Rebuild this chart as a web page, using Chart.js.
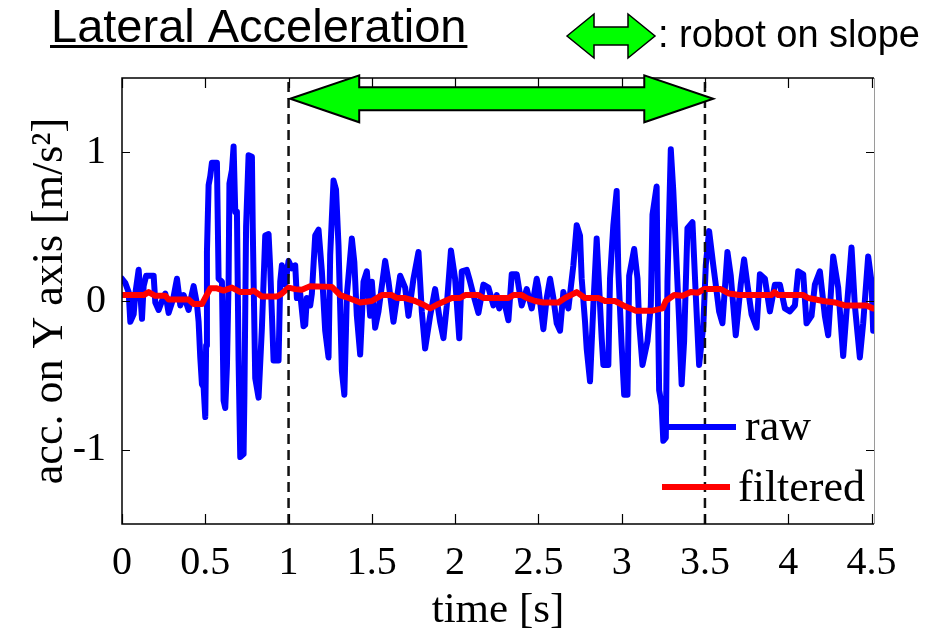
<!DOCTYPE html>
<html>
<head>
<meta charset="utf-8">
<script src="https://cdn.jsdelivr.net/npm/chart.js@4.4.1/dist/chart.umd.min.js"></script>
<style>
  html, body { margin: 0; padding: 0; background: #fff; }
  #wrap { width: 937px; height: 638px; }
</style>
</head>
<body>
<div id="wrap"><canvas id="c" width="937" height="638"></canvas></div>
<script>
// Lateral acceleration on the Y axis: raw sensor signal [m/s^2] over time [s]
const rawTime = [
  0.00,0.02,0.04,0.05,0.07,0.08,0.10,0.11,0.12,0.13,
  0.145,0.19,0.20,0.22,0.24,0.26,0.28,0.30,0.31,0.33,
  0.35,0.37,0.40,0.42,0.43,0.45,0.46,0.47,0.48,0.49,
  0.50,0.505,0.51,0.52,0.53,0.54,0.57,0.58,0.60,0.61,
  0.62,0.63,0.64,0.645,0.66,0.67,0.68,0.69,0.70,0.71,
  0.73,0.735,0.745,0.76,0.78,0.785,0.80,0.82,0.84,0.86,
  0.88,0.89,0.91,0.94,0.95,0.96,0.98,1.00,1.02,1.04,
  1.05,1.07,1.09,1.10,1.11,1.13,1.14,1.16,1.18,1.20,
  1.22,1.24,1.25,1.27,1.285,1.30,1.32,1.335,1.35,1.38,
  1.395,1.41,1.43,1.45,1.47,1.49,1.50,1.52,1.54,1.58,
  1.60,1.63,1.67,1.70,1.72,1.75,1.78,1.80,1.82,1.85,
  1.88,1.91,1.93,1.95,1.975,2.00,2.025,2.04,2.07,2.09,
  2.11,2.14,2.17,2.20,2.23,2.25,2.265,2.29,2.32,2.34,
  2.37,2.40,2.43,2.46,2.49,2.50,2.53,2.55,2.57,2.59,
  2.61,2.63,2.65,2.68,2.71,2.73,2.75,2.76,2.78,2.79,
  2.81,2.83,2.85,2.86,2.88,2.89,2.92,2.93,2.95,2.97,
  2.98,3.00,3.015,3.035,3.045,3.075,3.095,3.105,3.125,3.155,
  3.175,3.185,3.21,3.215,3.225,3.24,3.25,3.265,3.275,3.295,
  3.31,3.325,3.345,3.36,3.375,3.395,3.425,3.445,3.465,3.49,
  3.505,3.525,3.55,3.565,3.585,3.605,3.635,3.655,3.685,3.715,
  3.735,3.755,3.78,3.81,3.83,3.86,3.89,3.92,3.95,3.98,
  4.01,4.04,4.06,4.09,4.11,4.14,4.16,4.19,4.22,4.24,
  4.27,4.30,4.33,4.35,4.38,4.40,4.43,4.45,4.48,4.50,4.51
];
const rawAcc = [
  0.15,0.12,0.06,-0.14,-0.09,0.05,0.21,0.05,-0.12,0.10,
  0.17,0.17,-0.01,-0.06,0.00,0.05,-0.08,-0.01,0.03,0.15,
  -0.03,0.04,-0.06,0.05,0.10,-0.02,-0.14,-0.38,-0.56,-0.58,
  -0.78,-0.30,0.33,0.78,0.84,0.93,0.93,0.15,0.13,-0.67,
  -0.72,-0.44,0.13,0.79,0.88,1.04,0.60,0.60,-0.40,-1.05,
  -1.03,-0.63,0.50,0.98,0.97,0.49,-0.52,-0.65,-0.18,0.44,
  0.45,0.22,-0.40,-0.40,0.13,0.24,0.11,0.27,0.22,0.24,
  0.02,0.05,-0.17,-0.16,0.02,-0.03,0.05,0.44,0.48,0.20,
  -0.20,-0.38,0.31,0.81,0.75,0.37,-0.47,-0.63,0.04,0.42,
  0.26,-0.10,-0.36,0.13,0.20,-0.10,0.13,-0.18,-0.07,0.27,
  0.13,-0.14,0.17,0.09,-0.10,0.15,0.33,-0.07,-0.32,-0.10,
  0.08,-0.14,-0.25,-0.03,0.34,0.15,-0.25,0.20,0.21,0.13,
  0.04,-0.08,0.11,0.09,-0.03,0.04,-0.05,0.02,-0.13,0.18,
  0.18,-0.03,0.08,-0.05,0.15,0.09,-0.19,0.02,0.15,0.02,
  -0.15,-0.20,0.06,-0.05,0.24,0.51,0.44,0.15,-0.14,-0.32,
  -0.54,-0.03,0.42,0.20,-0.25,-0.43,-0.43,0.15,0.51,0.74,
  0.20,-0.30,-0.63,-0.63,0.17,0.35,0.15,-0.15,-0.43,-0.27,
  -0.03,0.58,0.77,0.20,-0.60,-0.70,-0.94,-0.92,0.13,1.02,
  0.74,0.37,-0.13,-0.56,-0.27,0.49,0.53,0.04,-0.43,-0.17,
  0.24,0.47,0.24,0.11,-0.07,-0.15,0.33,0.17,-0.23,0.11,
  0.28,0.11,-0.09,-0.18,0.18,0.15,-0.07,0.11,0.11,-0.05,
  -0.07,-0.03,0.20,0.18,-0.15,-0.10,0.11,0.20,-0.10,-0.23,
  0.30,0.09,-0.37,-0.07,0.36,-0.03,-0.38,-0.15,0.30,0.13,-0.20
];

// Low-pass filtered version of the same signal
const filtTime = [
  0.00,0.13,0.16,0.20,0.26,0.28,0.40,0.43,0.48,0.53,
  0.57,0.61,0.66,0.71,0.77,0.79,0.84,0.93,0.96,1.00,
  1.04,1.08,1.13,1.26,1.31,1.36,1.43,1.50,1.56,1.62,
  1.65,1.70,1.76,1.80,1.85,1.90,1.94,1.98,2.03,2.06,
  2.14,2.17,2.32,2.35,2.40,2.43,2.48,2.53,2.62,2.66,
  2.73,2.78,2.86,2.90,2.96,3.01,3.085,3.185,3.245,3.265,
  3.315,3.365,3.415,3.455,3.495,3.595,3.645,3.705,3.90,3.917,
  3.94,4.09,4.12,4.21,4.28,4.34,4.47,4.51
];
const filtAcc = [
  0.04,0.04,0.06,0.035,0.035,0.01,0.01,-0.02,-0.02,0.085,
  0.085,0.07,0.09,0.06,0.06,0.07,0.03,0.03,0.05,0.09,
  0.08,0.075,0.10,0.095,0.04,0.02,-0.01,0.00,0.04,0.04,
  0.02,0.02,0.00,-0.02,-0.05,-0.02,0.00,0.02,0.02,0.04,
  0.04,0.02,0.02,0.04,0.04,0.02,0.00,-0.01,-0.01,0.02,
  0.06,0.02,0.02,0.00,0.00,-0.03,-0.065,-0.065,-0.05,0.00,
  0.04,0.035,0.06,0.055,0.08,0.08,0.05,0.04,0.04,0.06,
  0.04,0.04,0.02,0.00,-0.01,-0.03,-0.03,-0.05
];

const xTicks = [0, 0.5, 1, 1.5, 2, 2.5, 3, 3.5, 4, 4.5];
const yTicks = [-1, 0, 1];
const xRange = [0, 4.515];
const yRange = [-1.5, 1.5];

// Interval during which the robot is on the slope
const slopeStart = 1.0;
const slopeEnd = 3.5;
const arrowFrom = 1.01;
const arrowTo = 3.55;
const arrowLevel = 1.36;

const SERIF = '"Liberation Serif", "Times New Roman", serif';
const SANS = '"Liberation Sans", Arial, sans-serif';

const toXY = (ts, vs) => ts.map((t, i) => ({ x: t, y: vs[i] }));

function drawDoubleArrow(ctx, x1, x2, y, headLen, headHalf, shaftHalf, lw) {
  ctx.save();
  ctx.beginPath();
  ctx.moveTo(x1, y);
  ctx.lineTo(x1 + headLen, y - headHalf);
  ctx.lineTo(x1 + headLen, y - shaftHalf);
  ctx.lineTo(x2 - headLen, y - shaftHalf);
  ctx.lineTo(x2 - headLen, y - headHalf);
  ctx.lineTo(x2, y);
  ctx.lineTo(x2 - headLen, y + headHalf);
  ctx.lineTo(x2 - headLen, y + shaftHalf);
  ctx.lineTo(x1 + headLen, y + shaftHalf);
  ctx.lineTo(x1 + headLen, y + headHalf);
  ctx.closePath();
  ctx.fillStyle = '#00ff00';
  ctx.fill();
  ctx.lineJoin = 'miter';
  ctx.lineWidth = lw;
  ctx.strokeStyle = '#000';
  ctx.stroke();
  ctx.restore();
}

// Axes box with inward tick marks on all four sides
const framePlugin = {
  id: 'frame',
  afterDatasetsDraw(chart) {
    const { ctx, chartArea: { left, right, top, bottom } } = chart;
    const xs = chart.scales.x, ys = chart.scales.y;
    ctx.save();
    ctx.strokeStyle = '#000';
    ctx.lineWidth = 1.5;
    ctx.beginPath();
    ctx.moveTo(right, top); ctx.lineTo(left, top);
    ctx.lineTo(left, bottom); ctx.lineTo(right, bottom);
    ctx.stroke();
    ctx.lineWidth = 1.2;
    ctx.beginPath();
    xTicks.forEach(v => {
      const px = Math.round(xs.getPixelForValue(v)) + 0.5;
      ctx.moveTo(px, bottom); ctx.lineTo(px, bottom - 10);
      ctx.moveTo(px, top); ctx.lineTo(px, top + 10);
    });
    yTicks.forEach(v => {
      const py = Math.round(ys.getPixelForValue(v)) + 0.5;
      ctx.moveTo(left, py); ctx.lineTo(left + 8, py);
      ctx.moveTo(right, py); ctx.lineTo(right - 8, py);
    });
    ctx.stroke();
    ctx.strokeStyle = '#9a9a9a';
    ctx.lineWidth = 1;
    ctx.beginPath();
    ctx.moveTo(right + 0.5, top); ctx.lineTo(right + 0.5, bottom);
    ctx.stroke();
    ctx.restore();
  }
};

// Slope arrow, series legend, and the heading row
const annotPlugin = {
  id: 'annot',
  afterDraw(chart) {
    const { ctx, chartArea: { right, bottom } } = chart;
    const xs = chart.scales.x, ys = chart.scales.y;

    drawDoubleArrow(ctx, xs.getPixelForValue(arrowFrom), xs.getPixelForValue(arrowTo),
      ys.getPixelForValue(arrowLevel), 69, 23.5, 11.5, 2);

    // series legend
    ctx.save();
    ctx.lineCap = 'butt';
    ctx.lineWidth = 6;
    ctx.strokeStyle = '#0000ff';
    ctx.beginPath(); ctx.moveTo(right - 208, bottom - 97); ctx.lineTo(right - 138, bottom - 97); ctx.stroke();
    ctx.strokeStyle = '#ff0000';
    ctx.beginPath(); ctx.moveTo(right - 212, bottom - 37); ctx.lineTo(right - 144, bottom - 37); ctx.stroke();
    ctx.fillStyle = '#000';
    ctx.font = '44px ' + SERIF;
    ctx.textBaseline = 'alphabetic';
    ctx.textAlign = 'left';
    ctx.fillText('raw', right - 129, bottom - 84);
    ctx.fillText('filtered', right - 136, bottom - 23);

    // heading
    ctx.font = '47px ' + SANS;
    const title = 'Lateral Acceleration';
    ctx.fillText(title, 51, 42);
    const w = ctx.measureText(title).width;
    ctx.fillRect(50, 45, w + 2, 3);

    drawDoubleArrow(ctx, 567, 655, 36, 27, 22, 9, 1.5);
    ctx.font = '38px ' + SANS;
    ctx.fillText(': robot on slope', 658, 47);
    ctx.restore();
  }
};

const lineStyle = { pointRadius: 0, borderJoinStyle: 'round', borderCapStyle: 'round', tension: 0, fill: false };

new Chart(document.getElementById('c'), {
  type: 'line',
  data: {
    datasets: [
      { label: 'slope start', data: [{ x: slopeStart, y: yRange[0] }, { x: slopeStart, y: yRange[1] }],
        borderColor: '#111', borderWidth: 2.5, borderDash: [10, 6], pointRadius: 0, order: 0 },
      { label: 'slope end', data: [{ x: slopeEnd, y: yRange[0] }, { x: slopeEnd, y: yRange[1] }],
        borderColor: '#111', borderWidth: 2.5, borderDash: [10, 6], pointRadius: 0, order: 0 },
      { label: 'filtered', data: toXY(filtTime, filtAcc), borderColor: '#ff0000', borderWidth: 6, order: 1, ...lineStyle },
      { label: 'raw', data: toXY(rawTime, rawAcc), borderColor: '#0000ff', borderWidth: 6, order: 2, ...lineStyle }
    ]
  },
  options: {
    responsive: false,
    animation: false,
    devicePixelRatio: 1,
    layout: { padding: { top: 78, right: 63, left: 0, bottom: 0 } },
    plugins: { legend: { display: false }, tooltip: { enabled: false } },
    scales: {
      x: {
        type: 'linear', min: xRange[0], max: xRange[1],
        grid: { display: false, drawTicks: false }, border: { display: false },
        afterBuildTicks: s => { s.ticks = xTicks.map(v => ({ value: v })); },
        afterFit: s => { s.height = 114; },
        ticks: { font: { family: SERIF, size: 40 }, color: '#000', padding: 15, maxRotation: 0, autoSkip: false,
                 callback: v => String(v) },
        title: { display: true, text: 'time [s]', color: '#000', font: { family: SERIF, size: 43 },
                 padding: { top: 0, bottom: 1 } }
      },
      y: {
        type: 'linear', min: yRange[0], max: yRange[1],
        grid: { display: false, drawTicks: false }, border: { display: false },
        afterBuildTicks: s => { s.ticks = yTicks.map(v => ({ value: v })); },
        afterFit: s => { s.width = 122; },
        ticks: { font: { family: SERIF, size: 40 }, color: '#000', padding: 16, autoSkip: false,
                 callback: v => String(v) },
        title: { display: true, text: 'acc. on Y axis [m/s²]', color: '#000', font: { family: SERIF, size: 44 },
                 padding: { top: 24, bottom: 0 } }
      }
    }
  },
  plugins: [framePlugin, annotPlugin]
});
</script>
</body>
</html>
